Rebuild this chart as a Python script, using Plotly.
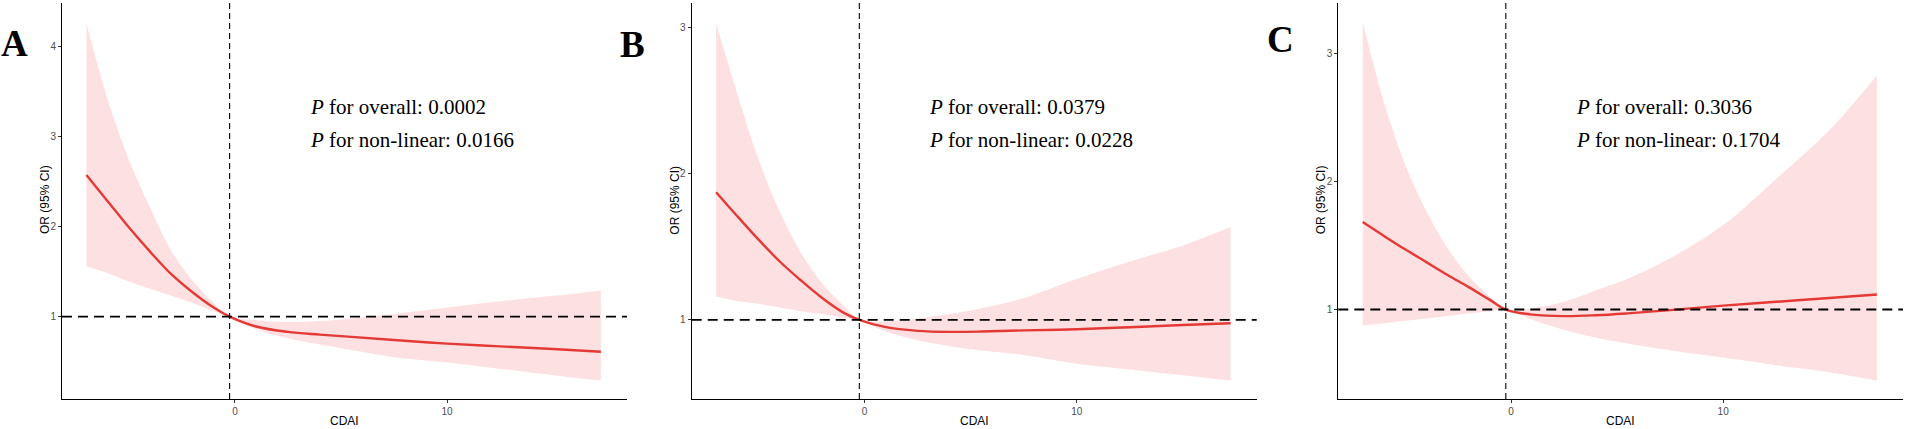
import plotly.graph_objects as go

W, H = 1905, 429

# ---- data ----
cdai = [-7, -6, -5, -4, -3, -2, -1, -0.25, 1, 2.5, 4, 5.5, 7.5, 10, 12.5, 15, 17.25]

a_or    = [2.57, 2.28, 1.99, 1.72, 1.47, 1.27, 1.10, 1.00, 0.89, 0.83, 0.80, 0.775, 0.74, 0.70, 0.67, 0.64, 0.61]
a_upper = [4.26, 3.41, 2.74, 2.21, 1.73, 1.40, 1.15, 1.00, 0.96, 0.94, 0.95, 0.98, 1.03, 1.10, 1.17, 1.23, 1.29]
a_lower = [1.56, 1.48, 1.39, 1.31, 1.23, 1.15, 1.06, 1.00, 0.86, 0.76, 0.69, 0.63, 0.55, 0.49, 0.42, 0.35, 0.29]

b_or    = [1.875, 1.71, 1.55, 1.40, 1.27, 1.15, 1.05, 1.00, 0.95, 0.925, 0.918, 0.92, 0.928, 0.936, 0.95, 0.965, 0.977]
b_upper = [3.03, 2.55, 2.10, 1.74, 1.46, 1.25, 1.10, 1.00, 0.99, 1.01, 1.04, 1.08, 1.15, 1.28, 1.40, 1.51, 1.636]
b_lower = [1.16, 1.13, 1.11, 1.085, 1.06, 1.04, 1.015, 1.00, 0.92, 0.86, 0.82, 0.79, 0.76, 0.70, 0.66, 0.62, 0.583]

c_or    = [1.683, 1.575, 1.47, 1.37, 1.27, 1.175, 1.075, 1.00, 0.96, 0.948, 0.955, 0.97, 0.995, 1.03, 1.06, 1.09, 1.117]
c_upper = [3.25, 2.62, 2.13, 1.77, 1.48, 1.26, 1.10, 1.00, 1.01, 1.06, 1.15, 1.24, 1.40, 1.66, 2.02, 2.40, 2.83]
c_lower = [0.875, 0.893, 0.912, 0.93, 0.95, 0.968, 0.986, 1.00, 0.92, 0.84, 0.78, 0.735, 0.68, 0.625, 0.565, 0.51, 0.444]

ref_cdai = -0.25
x_ticks = [0, 10]
panel_labels = ["A", "B", "C"]
p_overall = ["0.0002", "0.0379", "0.3036"]
p_nonlinear = ["0.0166", "0.0228", "0.1704"]

panels = [
    dict(or_=a_or, up=a_upper, lo=a_lower, yticks=[1, 2, 3, 4], yrange=[0.086, 4.478],
         xpx=(62, 627), lab=(14.5, 43), txt=308),
    dict(or_=b_or, up=b_upper, lo=b_lower, yticks=[1, 2, 3], yrange=[0.458, 3.171],
         xpx=(691.7, 1256.7), lab=(632.5, 44.5), txt=927),
    dict(or_=c_or, up=c_upper, lo=c_lower, yticks=[1, 2, 3], yrange=[0.301, 3.394],
         xpx=(1338.3, 1903), lab=(1280, 40), txt=1574),
]

LINE = "#E53935"
BAND = "#FDE1E2"
y_dom = [1 - 399 / H, 1 - 3 / H]

fig = go.Figure()
layout = dict(width=W, height=H, margin=dict(l=0, r=0, t=0, b=0),
              plot_bgcolor="white", paper_bgcolor="white", showlegend=False)
shapes, annots = [], []

for i, p in enumerate(panels):
    n = "" if i == 0 else str(i + 1)
    xa, ya = "x" + n, "y" + n
    fig.add_trace(go.Scatter(x=cdai, y=p["lo"], mode="lines", line=dict(width=0, shape="spline"),
                             xaxis=xa, yaxis=ya, hoverinfo="skip"))
    fig.add_trace(go.Scatter(x=cdai, y=p["up"], mode="lines", line=dict(width=0, shape="spline"),
                             fill="tonexty", fillcolor=BAND, xaxis=xa, yaxis=ya, hoverinfo="skip"))
    fig.add_trace(go.Scatter(x=cdai, y=p["or_"], mode="lines",
                             line=dict(color=LINE, width=2.4, shape="spline"), xaxis=xa, yaxis=ya))
    layout["xaxis" + n] = dict(domain=[p["xpx"][0] / W, p["xpx"][1] / W], anchor=ya,
                               range=[-8.15, 18.48], tickvals=x_ticks, showline=True,
                               linecolor="black", linewidth=1.1, ticks="outside", ticklen=3,
                               tickcolor="#333333", showgrid=False, zeroline=False,
                               tickfont=dict(family="Liberation Sans", size=10, color="#4D4D4D"))
    layout["yaxis" + n] = dict(domain=y_dom, anchor=xa, range=p["yrange"], tickvals=p["yticks"],
                               showline=True, linecolor="black", linewidth=1.1, ticks="outside",
                               ticklen=3, tickcolor="#333333", showgrid=False, zeroline=False,
                               tickfont=dict(family="Liberation Sans", size=10, color="#4D4D4D"))
    # reference lines
    shapes.append(dict(type="line", xref=xa + " domain", yref=ya, x0=0, x1=1, y0=1, y1=1,
                       line=dict(color="black", width=1.8, dash="10px,6px")))
    shapes.append(dict(type="line", xref=xa, yref=ya + " domain", x0=ref_cdai, x1=ref_cdai, y0=0, y1=1,
                       line=dict(color="black", width=1.1, dash="6px,4px")))
    # axis titles
    annots.append(dict(text="OR (95% CI)", xref="paper", yref="paper", x=(p["xpx"][0] - 17) / W,
                       y=1 - 200 / H, textangle=-90, showarrow=False, xanchor="center", yanchor="middle",
                       font=dict(family="Liberation Sans", size=12, color="black")))
    annots.append(dict(text="CDAI", xref="paper", yref="paper", x=(p["xpx"][0] + p["xpx"][1]) / 2 / W,
                       y=1 - 421 / H, showarrow=False, xanchor="center", yanchor="middle",
                       font=dict(family="Liberation Sans", size=12, color="black")))
    # panel label
    annots.append(dict(text="<b>%s</b>" % panel_labels[i], xref="paper", yref="paper",
                       x=p["lab"][0] / W, y=1 - p["lab"][1] / H, showarrow=False,
                       xanchor="center", yanchor="middle",
                       font=dict(family="Liberation Serif", size=37, color="black")))
    # p-value text
    for t, yy in [("<i>P</i> for overall: " + p_overall[i], 106.7),
                  ("<i>P</i> for non-linear: " + p_nonlinear[i], 140)]:
        annots.append(dict(text=t, xref="paper", yref="paper", x=p["txt"] / W, y=1 - yy / H,
                           showarrow=False, xanchor="left", yanchor="middle",
                           font=dict(family="Liberation Serif", size=21, color="black")))

layout["shapes"] = shapes
layout["annotations"] = annots
fig.update_layout(**layout)
fig.write_html("out.html", config={"displayModeBar": False},
               post_script="document.body.style.margin='0px';document.body.style.overflow='hidden';")
